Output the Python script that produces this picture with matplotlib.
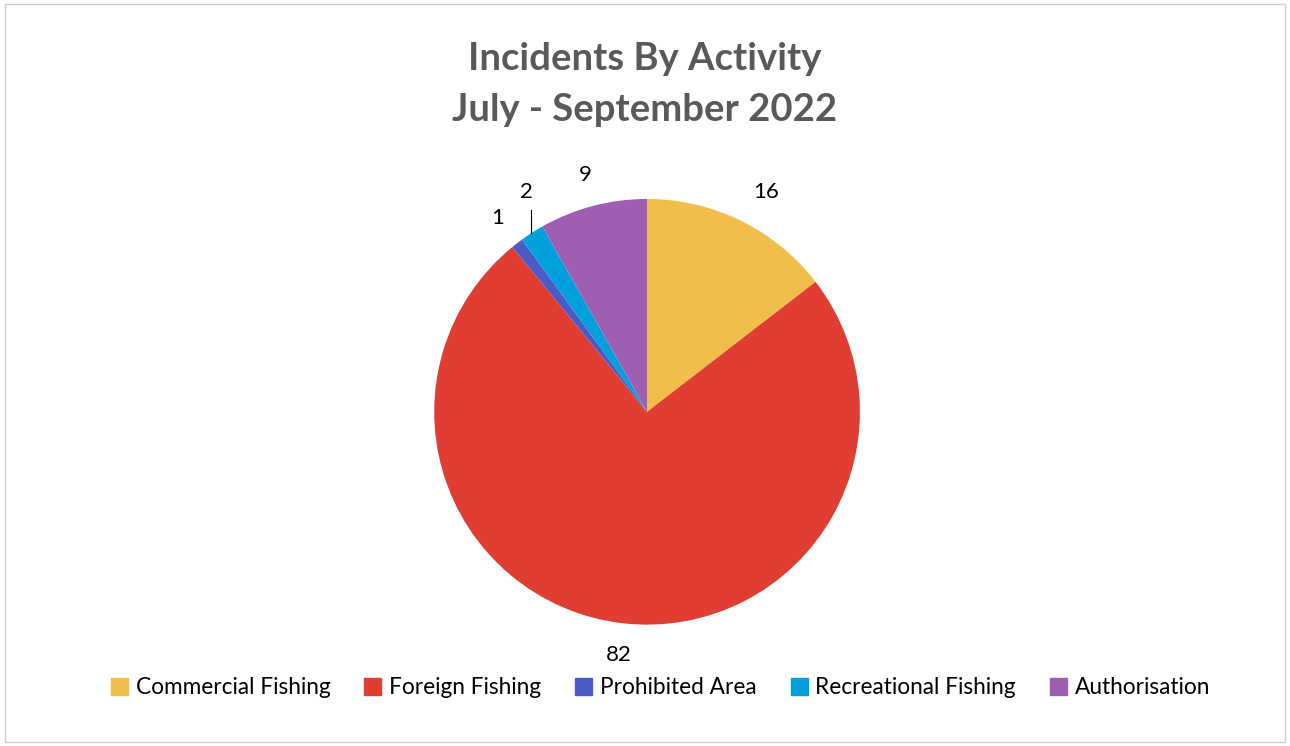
import numpy as np
import matplotlib.pyplot as plt
from matplotlib.patches import Rectangle

categories = ["Commercial Fishing", "Foreign Fishing", "Prohibited Area",
              "Recreational Fishing", "Authorisation"]
values = [16, 82, 1, 2, 9]
colors = ["#F1BE4C", "#E03E33", "#4A5BC8", "#00A0DC", "#9E5FB3"]

plt.rcParams["font.family"] = ["Lato", "DejaVu Sans"]

fig = plt.figure(figsize=(12.9, 7.46), dpi=100)
fig.patches.append(Rectangle((0.004, 0.006), 0.992, 0.988, transform=fig.transFigure,
                             fill=False, edgecolor="#D0D0D0", linewidth=1))

fig.text(0.5, 0.921, "Incidents By Activity", ha="center", va="center",
         fontsize=27.5, fontweight="bold", color="#595959")
fig.text(0.5, 0.853, "July - September 2022", ha="center", va="center",
         fontsize=27.5, fontweight="bold", color="#595959")

ax = fig.add_axes([0.5016 - 0.165, 0.448 - 0.2855, 0.33, 0.571])
wedges, _ = ax.pie(values, colors=colors, startangle=90, counterclock=False,
                   wedgeprops=dict(linewidth=0))
ax.set_xlim(-1, 1)
ax.set_ylim(-1, 1)
ax.set_aspect("equal")
ax.axis("off")

# data labels outside each wedge
for w, v in zip(wedges, values):
    mid = np.deg2rad((w.theta1 + w.theta2) / 2)
    r = 1.15
    lx, ly = np.cos(mid) * r, np.sin(mid) * r
    if v == 16:
        lx += 0.05
    if v == 2:
        mid = mid - np.deg2rad(4)
        lx, ly = np.cos(mid) * 1.175, np.sin(mid) * 1.175
        x0 = lx + 0.02
        ax.plot([x0, x0], [np.sqrt(1 - x0 ** 2), ly - 0.08],
                color="black", linewidth=0.8, clip_on=False)
    ax.text(lx, ly, str(v), ha="center", va="center",
            fontsize=16, color="black", clip_on=False)

handles = [Rectangle((0, 0), 1, 1, color=c) for c in colors]
fig.legend(handles, categories, loc="center", bbox_to_anchor=(0.512, 0.078),
           ncol=5, frameon=False, fontsize=16.3, handlelength=0.75, handleheight=0.75,
           handletextpad=0.35, columnspacing=1.5)

fig.savefig("out.png", dpi=100)
